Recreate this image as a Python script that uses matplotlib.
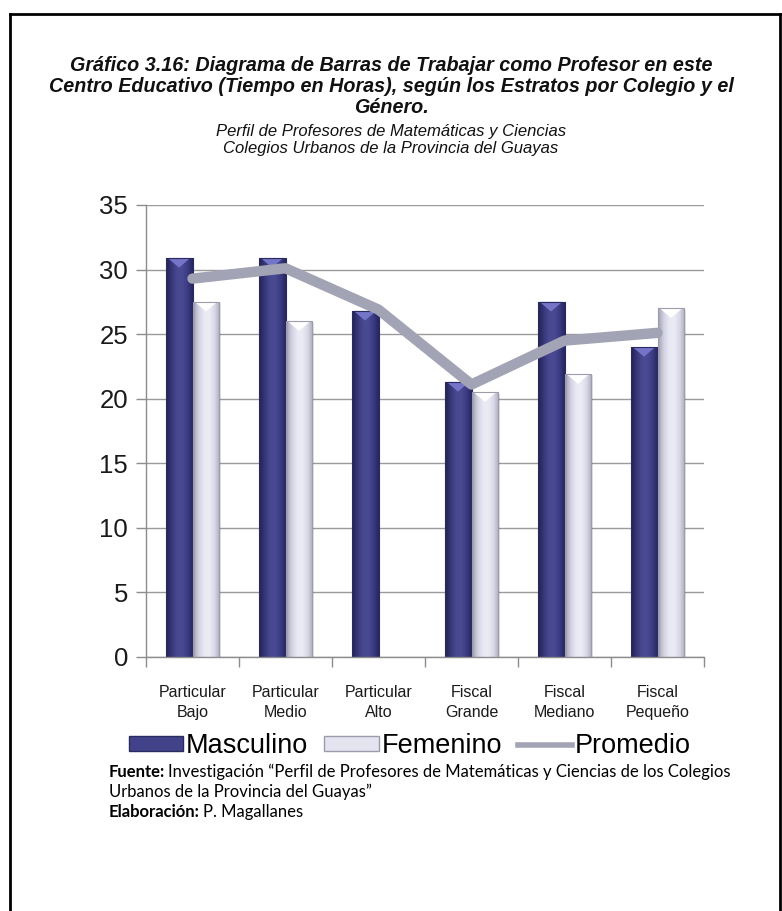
import numpy as np
import matplotlib
matplotlib.use("Agg")
import matplotlib.pyplot as plt
from matplotlib.colors import LinearSegmentedColormap
from matplotlib.patches import Patch, Polygon, Rectangle
from matplotlib.lines import Line2D
from matplotlib import font_manager

# ---------------- data ----------------
categories = ["Particular\nBajo", "Particular\nMedio", "Particular\nAlto",
              "Fiscal\nGrande", "Fiscal\nMediano", "Fiscal\nPequeño"]
masculino = [30.9, 30.9, 26.8, 21.3, 27.5, 24.0]
femenino = [27.5, 26.0, np.nan, 20.5, 21.9, 27.0]
promedio = [29.3, 30.1, 26.9, 21.1, 24.5, 25.1]
yticks = [0, 5, 10, 15, 20, 25, 30, 35]
series_names = ["Masculino", "Femenino", "Promedio"]

title = ("Gráfico 3.16: Diagrama de Barras de Trabajar como Profesor en este\n"
         "Centro Educativo (Tiempo en Horas), según los Estratos por Colegio y el\n"
         "Género.")
subtitle = ("Perfil de Profesores de Matemáticas y Ciencias\n"
            "Colegios Urbanos de la Provincia del Guayas")
footer = [("Fuente:", "Investigación “Perfil de Profesores de Matemáticas y Ciencias de los Colegios"),
          ("", "Urbanos de la Provincia del Guayas”"),
          ("Elaboración:", "P. Magallanes")]

names = {f.name for f in font_manager.fontManager.ttflist}
sans = "Liberation Sans"
body = "Lato" if "Lato" in names else "DejaVu Sans"

W, H = 782, 911
fig = plt.figure(figsize=(W / 100, H / 100), dpi=100)
fig.patch.set_facecolor("white")

# outer frame
fig.add_artist(Line2D([10 / W, 10 / W], [0, 1 - 14 / H], transform=fig.transFigure, color="black", lw=2))
fig.add_artist(Line2D([10 / W, 780 / W], [1 - 14 / H, 1 - 14 / H], transform=fig.transFigure, color="black", lw=2))
fig.add_artist(Line2D([780 / W, 780 / W], [0, 1 - 14 / H], transform=fig.transFigure, color="black", lw=2))

ax = fig.add_axes([146 / W, 1 - 657 / H, 558 / W, 452 / H])

x = np.arange(len(categories))
bw = 0.29
bars_m = ax.bar(x - bw / 2, masculino, width=bw, color="#42428a", edgecolor="#2a2a5e", lw=0.6, zorder=2)
bars_f = ax.bar(x + bw / 2, femenino, width=bw, color="#e4e4f0", edgecolor="#9c9cae", lw=0.6, zorder=2)

cm_m = LinearSegmentedColormap.from_list("m", ["#22224f", "#36367a", "#48488f", "#4a4a93", "#3c3c84", "#262660"])
cm_f = LinearSegmentedColormap.from_list("f", ["#a0a0b2", "#d0d0e0", "#e8e8f4", "#ececf6", "#dadae8", "#aeaec0"])
grad = np.linspace(0, 1, 64).reshape(1, -1)

def shade(bars, cmap, tipcolor):
    for r in bars:
        h = r.get_height()
        if not np.isfinite(h) or h <= 0:
            continue
        x0, w = r.get_x(), r.get_width()
        # soft shadow to the right
        ax.add_patch(Rectangle((x0 + 0.02, 0), w, h - 0.1, facecolor="#000000", alpha=0.12,
                               edgecolor="none", zorder=1.9))
        im = ax.imshow(grad, extent=[x0, x0 + w, 0, h], aspect="auto", cmap=cmap, zorder=2.1,
                       interpolation="bilinear")
        im.set_clip_path(r)
        tri = Polygon([[x0 + 0.08 * w, h], [x0 + 0.92 * w, h], [x0 + w / 2, h - 0.75]],
                      closed=True, facecolor=tipcolor, edgecolor="none", zorder=2.2)
        ax.add_patch(tri)
        edge = Rectangle((x0, 0), w, h, facecolor="none", edgecolor=r.get_edgecolor(), lw=0.8, zorder=2.3)
        ax.add_patch(edge)

shade(bars_m, cm_m, "#7474c8")
shade(bars_f, cm_f, "#ffffff")

ax.plot(x, promedio, color="#a3a3b6", lw=7.5, solid_capstyle="round", solid_joinstyle="round", zorder=3)

ax.set_xlim(-0.5, len(categories) - 0.5)
ax.set_ylim(0, 35)
ax.set_yticks(yticks)
ax.set_yticklabels([str(v) for v in yticks], fontsize=18.5, family=sans, color="#1a1a1a")
ax.set_xticks(x)
ax.set_xticklabels(categories, fontsize=11.5, family=sans, color="#1a1a1a", linespacing=1.45)
ax.set_xticks(np.arange(len(categories) + 1) - 0.5, minor=True)
ax.tick_params(axis="x", which="major", length=0, pad=20)
ax.tick_params(axis="x", which="minor", length=7, color="#8c8c8c", width=1, direction="out")
ax.tick_params(axis="y", length=7, color="#8c8c8c", width=1, pad=6)
ax.grid(axis="y", color="#9a9a9a", lw=1, zorder=0)
ax.set_axisbelow(True)
for s in ["top", "right"]:
    ax.spines[s].set_visible(False)
for s in ["left", "bottom"]:
    ax.spines[s].set_color("#8c8c8c")
    ax.spines[s].set_linewidth(1)

# titles
fig.text(0.5, 1 - 56 / H, title, ha="center", va="top", fontsize=14.2, family=sans,
         weight="bold", style="italic", linespacing=1.12, color="#111111")
fig.text(0.5, 1 - 124 / H, subtitle, ha="center", va="top", fontsize=12, family=sans,
         style="italic", linespacing=1.2, color="#111111")

# legend
handles = [Patch(facecolor="#42428a", edgecolor="#2a2a5e"),
           Patch(facecolor="#e4e4f0", edgecolor="#9c9cae"),
           Line2D([0], [0], color="#a3a3b6", lw=4)]
fig.legend(handles, series_names, loc="center", bbox_to_anchor=(410 / W, 1 - 746 / H), ncol=3,
           frameon=False, prop={"family": sans, "size": 19.5}, handlelength=2.0, handleheight=0.45,
           handletextpad=0.1, columnspacing=0.6)

# source notes
renderer = fig.canvas.get_renderer()
fs = 12.0
ys = [777, 797, 817]
for (bold, rest), yp in zip(footer, ys):
    xp = 109
    if bold:
        t = fig.text(xp / W, 1 - yp / H, bold, fontsize=fs, family=body, weight="bold", va="baseline")
        bb = t.get_window_extent(renderer)
        xp = bb.x1 + 3
    fig.text(xp / W, 1 - yp / H, rest, fontsize=fs, family=body, va="baseline")

fig.savefig("out.png", dpi=100, facecolor="white")
